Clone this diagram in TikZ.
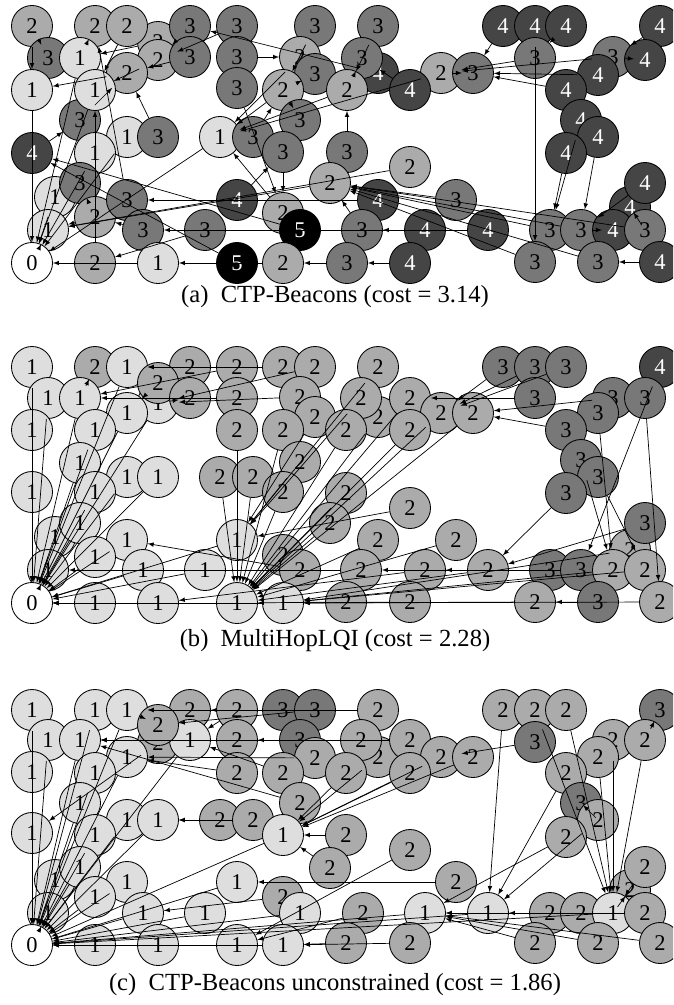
\documentclass[tikz,border=0pt]{standalone}
\usepackage{fontspec}
\setmainfont{Liberation Serif}
\usetikzlibrary{arrows}
\definecolor{hopone}{gray}{0.87}
\definecolor{hoptwo}{gray}{0.67}
\definecolor{hopthree}{gray}{0.47}
\definecolor{hopfour}{gray}{0.27}

\tikzset{
  mote/.style={draw, circle, line width=0.6pt, minimum size=1.025cm, inner sep=0pt,
    font=\fontsize{16}{16}\selectfont},
  hop0/.style={mote, fill=white},
  hop1/.style={mote, fill=hopone},
  hop2/.style={mote, fill=hoptwo},
  hop3/.style={mote, fill=hopthree},
  hop4/.style={mote, fill=hopfour, text=white},
  hop5/.style={mote, fill=black, text=white},
  link/.style={line width=0.5pt, -latex},
  caption/.style={font=\fontsize{17.5}{20}\selectfont}
}

\begin{document}
\begin{tikzpicture}[x=0.025cm, y=-0.025cm]
    \useasboundingbox (0,0) rectangle (673,1005);
    \clip (0,0) rectangle (673,1005); % Cuts the motes on the right border

    % (a) CTP-Beacons
    \foreach \x/\y/\h in {158/42/2, 378/73/4, 55/197/1, 630/207/4, 283/213/2, 613/57/3, 80/120/3,
      32/26/2, 95/26/2, 127/26/2, 190/26/3, 237/26/3, 315/26/3, 378/26/3, 503/26/4, 535/26/4, 566/26/4, 660/26/4,
      48/58/3, 80/58/1, 158/60/2, 190/57/3, 237/57/3, 300/57/2, 362/58/3, 535/58/3, 645/60/4,
      127/73/2, 315/74/3, 441/73/2, 473/73/3, 598/75/4,
      32/90/1, 95/90/1, 237/88/3, 283/90/2, 347/90/2, 410/90/4, 566/90/4,
      300/120/3, 581/120/4,
      127/137/1, 158/137/3, 220/137/1, 253/137/3, 598/137/4,
      32/153/4, 95/153/1, 283/152/3, 347/152/3, 566/153/4,
      410/167/2, 80/183/3, 330/183/2, 645/183/4,
      95/217/2, 127/200/3, 237/200/4, 378/200/4, 456/200/3,
      48/230/1, 143/230/3, 205/230/3, 300/230/5, 362/230/3, 425/230/4, 488/230/4, 550/230/3, 581/230/3, 613/230/4, 645/230/3,
      32/263/0, 95/263/2, 158/263/1, 237/263/5, 283/263/2, 347/263/3, 410/263/4, 535/262/3, 598/262/3, 660/262/4}
      \node[hop\h] (a\x-\y) at (\x,\y) {\h};

    \foreach \s/\t in {80-58/32-263, 32-90/32-263, 95-90/32-263, 127-137/32-263, 220-137/32-263,
      95-153/32-263, 55-197/32-263, 48-230/32-263, 158-263/32-263,
      % hop 2
      32-26/32-90, 95-26/80-58, 127-26/95-90, 158-42/80-58, 158-60/95-90, 127-73/32-90,
      300-57/220-137, 283-90/220-137, 347-90/220-137, 441-73/220-137, 410-167/48-230,
      330-183/48-230, 95-217/48-230, 283-213/220-137, 95-263/95-90, 283-263/158-263,
      % hop 3
      190-26/158-60, 237-26/158-60, 315-26/283-90, 378-26/347-90, 48-58/32-26, 190-57/127-73,
      237-57/300-57, 362-58/347-90, 315-74/283-90, 473-73/441-73, 535-58/441-73, 613-57/441-73,
      237-88/283-213, 80-120/127-73, 300-120/283-90, 158-137/127-73, 253-137/283-90,
      283-152/283-213, 347-152/347-90, 80-183/95-217, 127-200/95-26, 143-230/95-217,
      205-230/95-263, 362-230/330-183, 456-200/330-183, 550-230/330-183, 581-230/330-183,
      645-230/330-183, 535-262/330-183, 598-262/330-183, 347-263/283-263,
      % hop 4
      503-26/473-73, 535-26/535-262, 566-26/535-58, 660-26/613-57, 645-60/613-57, 378-73/190-26,
      598-75/473-73, 410-90/362-58, 566-90/473-73, 581-120/550-230, 598-137/581-230,
      566-153/550-230, 32-153/80-120, 237-200/283-152, 378-200/127-200, 425-230/143-230,
      488-230/362-230, 613-230/581-230, 645-183/581-230, 630-207/645-230, 410-263/347-263,
      660-262/598-262,
      % hop 5
      300-230/32-153, 237-263/32-153}
      \draw[link] (a\s) -- (a\t);

    \node[caption] (capa) at (335,297) {(a)\enspace CTP-Beacons (cost = 3.14)};

    % (b) MultiHopLQI
    \foreach \x/\y/\h in {158/403/1, 378/417/2, 55/537/1, 630/550/2,
      32/367/1, 95/367/2, 127/367/1, 190/367/2, 237/367/2, 283/367/2, 315/367/2, 378/367/2, 503/367/3, 535/367/3, 566/367/3, 660/367/4,
      158/383/2, 48/398/1, 80/398/1, 190/398/2, 237/398/2, 300/397/2, 361/398/2, 410/398/2, 535/398/3, 613/398/3, 645/398/3,
      127/413/1, 315/417/2, 441/413/2, 473/413/2, 598/413/3,
      32/430/1, 95/430/1, 237/430/2, 283/430/2, 346/430/2, 410/430/2, 566/430/3,
      80/463/1, 300/462/2, 581/460/3,
      127/477/1, 158/477/1, 220/477/2, 253/477/2, 598/477/3,
      32/492/1, 95/492/1, 283/492/2, 346/493/2, 566/493/3,
      410/508/2, 80/523/1, 330/523/2, 645/523/3,
      127/540/1, 237/540/1, 378/540/2, 456/540/2, 95/557/1, 283/555/2,
      48/570/1, 143/570/1, 205/570/1, 300/570/2, 361/570/2, 425/570/2, 488/570/2, 550/570/3, 581/570/3, 613/570/2, 645/570/2,
      32/603/0, 95/603/1, 158/603/1, 237/603/1, 283/603/1, 346/602/2, 410/602/2, 535/602/2, 598/602/3, 660/602/2}
      \node[hop\h] (b\x-\y) at (\x,\y) {\h};

    \foreach \s/\t in {32-367/32-603, 127-367/32-603, 158-403/32-603, 48-398/32-603, 80-398/32-603,
      127-413/32-603, 32-430/32-603, 95-430/32-603, 80-463/32-603, 127-477/32-603, 158-477/32-603,
      32-492/32-603, 95-492/32-603, 80-523/32-603, 55-537/32-603, 127-540/32-603, 237-540/32-603,
      95-557/32-603, 48-570/32-603, 143-570/32-603, 205-570/32-603, 95-603/32-603, 158-603/32-603,
      237-603/32-603, 283-603/32-603,
      % hop 2
      95-367/80-398, 158-383/127-413, 190-367/127-367, 190-398/158-403, 237-367/80-398,
      237-398/80-398, 283-367/127-367, 315-367/158-403, 300-397/158-403, 378-367/237-540,
      361-398/237-540, 410-398/237-603, 315-417/237-540, 378-417/237-603, 441-413/237-603,
      473-413/237-603, 237-430/237-603, 283-430/237-603, 346-430/237-603, 410-430/237-603,
      300-462/237-540, 220-477/237-603, 253-477/237-603, 283-492/237-603, 346-493/237-603,
      410-508/237-540, 330-523/237-603, 378-540/237-603, 456-540/237-603, 283-555/237-603,
      300-570/127-540, 361-570/48-570, 425-570/158-603, 488-570/237-603, 613-570/283-603,
      645-570/283-603, 630-550/283-603, 346-602/237-603, 410-602/283-603, 535-602/283-603,
      660-602/283-603,
      % hop 3
      503-367/441-413, 535-367/441-413, 566-367/441-413, 535-398/410-398, 613-398/473-413,
      645-398/660-602, 598-413/613-570, 566-430/473-413, 581-460/613-570, 598-477/645-570,
      566-493/488-570, 645-523/488-570, 550-570/361-570, 581-570/425-570, 598-602/535-602,
      % hop 4
      660-367/581-570}
      \draw[link] (b\s) -- (b\t);

    \node[caption] (capb) at (335,641) {(b)\enspace MultiHopLQI (cost = 2.28)};

    % (c) CTP-Beacons unconstrained
    \foreach \x/\y/\h in {158/743/2, 378/757/2, 55/880/1, 630/890/2,
      32/710/1, 95/710/1, 127/710/1, 190/710/2, 237/710/2, 283/710/3, 315/710/3, 378/710/2, 503/710/2, 535/710/2, 566/710/2, 660/710/3,
      190/740/1, 158/725/2, 48/740/1, 80/740/1, 237/740/2, 300/740/3, 361/740/2, 410/740/2, 535/742/3, 613/740/2, 645/740/2,
      127/757/1, 315/758/2, 441/757/2, 473/757/2, 598/757/2,
      32/772/1, 95/773/1, 237/773/2, 283/773/2, 346/773/2, 410/773/2, 566/773/2,
      80/803/1, 300/803/2, 581/803/3,
      127/820/1, 158/820/1, 220/820/2, 253/820/2, 598/820/2,
      32/833/1, 95/835/1, 283/835/1, 346/835/2, 566/837/2,
      410/850/2, 80/867/1, 330/868/2, 645/867/2,
      127/882/1, 237/882/1, 456/882/2, 95/897/1, 283/897/2,
      48/913/1, 143/913/1, 205/913/1, 300/913/1, 363/913/2, 425/913/1, 488/913/1, 550/913/2, 581/913/2, 613/913/1, 645/913/2,
      32/945/0, 95/945/1, 158/945/1, 237/945/1, 283/945/1, 346/943/2, 410/943/2, 535/943/2, 598/943/2, 660/943/2}
      \node[hop\h] (c\x-\y) at (\x,\y) {\h};

    \foreach \s/\t in {32-710/32-945, 95-710/32-945, 127-710/32-945, 190-740/32-945, 48-740/32-945,
      80-740/32-945, 127-757/32-945, 32-772/32-945, 95-773/32-945, 80-803/32-945, 127-820/32-945,
      158-820/32-945, 32-833/32-945, 95-835/32-945, 283-835/32-945, 80-867/32-945, 55-880/32-945,
      127-882/32-945, 237-882/32-945, 95-897/32-945, 48-913/32-945, 143-913/32-945, 205-913/32-945,
      300-913/32-945, 425-913/32-945, 488-913/32-945, 613-913/32-945, 95-945/32-945, 158-945/32-945,
      237-945/32-945, 283-945/32-945,
      % hop 2
      158-743/32-833, 378-757/283-835, 630-890/613-913, 190-710/127-710, 237-710/190-740,
      378-710/127-710, 503-710/488-913, 535-710/613-913, 566-710/613-913, 158-725/127-710,
      237-740/80-740, 361-740/80-740, 410-740/80-740, 613-740/613-913, 645-740/613-913,
      315-758/127-757, 441-757/283-835, 473-757/283-835, 598-757/613-913, 237-773/127-757,
      283-773/190-740, 346-773/283-835, 410-773/283-835, 566-773/488-913, 300-803/80-740,
      220-820/158-820, 253-820/158-820, 598-820/488-913, 346-835/283-835, 566-837/425-913,
      410-850/237-945, 330-868/283-835, 645-867/613-913, 456-882/237-882, 283-897/143-913,
      363-913/237-945, 550-913/488-913, 581-913/425-913, 645-913/425-913, 346-943/283-945,
      410-943/283-945, 535-943/425-913, 598-943/425-913, 660-943/425-913,
      % hop 3
      283-710/190-710, 315-710/158-725, 300-740/237-740, 535-742/441-757, 660-710/645-740,
      581-803/598-820}
      \draw[link] (c\s) -- (c\t);

    \node[caption] (capc) at (335,985) {(c)\enspace CTP-Beacons unconstrained (cost = 1.86)};
\end{tikzpicture}
\end{document}
